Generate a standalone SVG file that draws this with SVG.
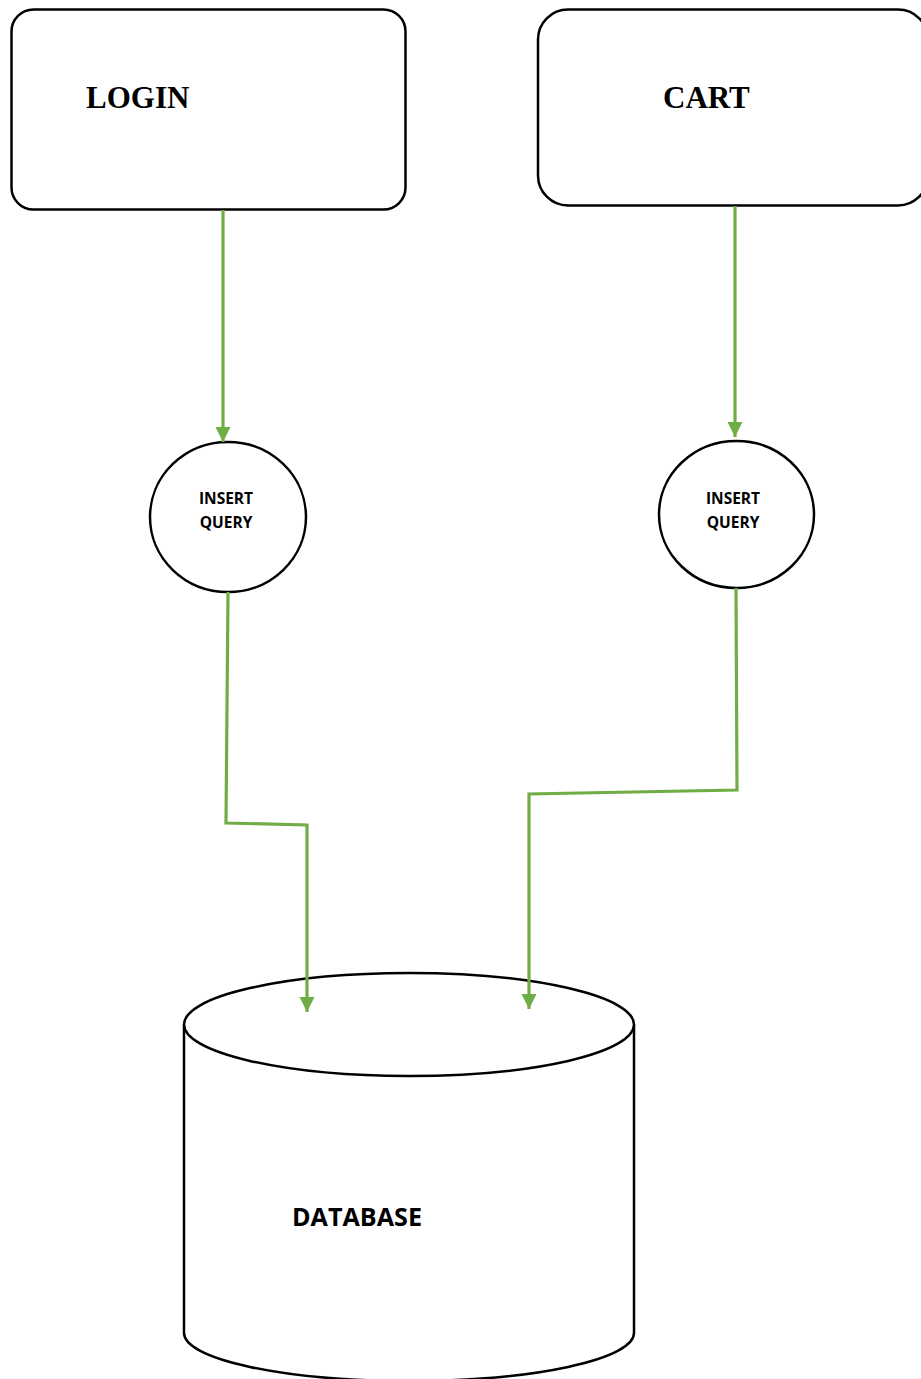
<svg xmlns="http://www.w3.org/2000/svg" width="921" height="1379" viewBox="0 0 921 1379">
<style>
.box{fill:#fff;stroke:#000;stroke-width:2.5}
.title{font-family:"Liberation Serif","Times New Roman",serif;font-weight:bold;font-size:31px;fill:#000}
.small{font-family:"Open Sans","Noto Sans",sans-serif;font-weight:bold;font-size:15.5px;fill:#000;text-anchor:middle}
.db{font-family:"Open Sans","Noto Sans",sans-serif;font-weight:bold;font-size:25px;fill:#000}
.conn{fill:none;stroke:#70AD47;stroke-width:3.2}
</style>
<defs>
<marker id="arr" viewBox="0 0 10 10" refX="10" refY="5" markerUnits="userSpaceOnUse" markerWidth="15" markerHeight="16" orient="auto">
<path d="M0,0 L10,5 L0,10 Z" fill="#70AD47"/>
</marker>
</defs>
<rect width="921" height="1379" fill="#fff"/>
<g id="login">
<rect class="box" x="11.5" y="9.5" width="394" height="200" rx="22" ry="22"/>
<text class="title" x="86" y="108">LOGIN</text>
</g>
<g id="cart">
<rect class="box" x="538" y="9.5" width="390" height="196" rx="30" ry="30"/>
<text class="title" x="663" y="108">CART</text>
</g>
<g id="query1">
<ellipse class="box" cx="228" cy="517" rx="78" ry="75"/>
<text class="small" x="226" y="504">INSERT</text>
<text class="small" x="226" y="528">QUERY</text>
</g>
<g id="query2">
<ellipse class="box" cx="736.5" cy="514.5" rx="77.5" ry="73.5"/>
<text class="small" x="733" y="504">INSERT</text>
<text class="small" x="733" y="528">QUERY</text>
</g>
<g id="database">
<path class="box" d="M184,1024.5 L184,1333 A225,48 0 0 0 634,1333 L634,1024.5"/>
<ellipse class="box" cx="409" cy="1024.5" rx="225" ry="51.5"/>
<text class="db" x="292" y="1226" textLength="130" lengthAdjust="spacingAndGlyphs">DATABASE</text>
</g>
<g id="connectors">
<path class="conn" d="M223,210 L223,442" marker-end="url(#arr)"/>
<path class="conn" d="M735,206 L735,437" marker-end="url(#arr)"/>
<path class="conn" d="M228,592 L226,823 L307,825 L307,1012" marker-end="url(#arr)"/>
<path class="conn" d="M736,588 L737,790 L529,794 L529,1009" marker-end="url(#arr)"/>
</g>
</svg>
